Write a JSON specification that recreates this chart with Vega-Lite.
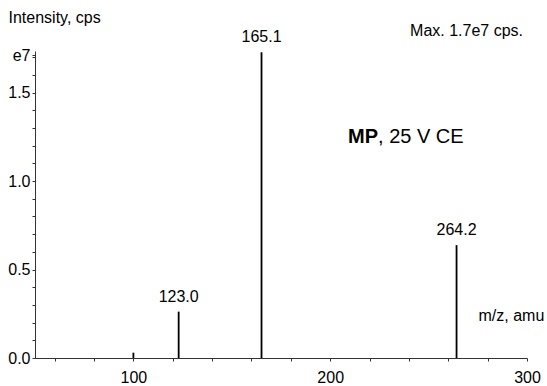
{
  "$schema": "https://vega.github.io/schema/vega-lite/v6.json",
  "width": 492,
  "height": 307,
  "autosize": {"type": "none"},
  "padding": {"left": 35, "top": 51, "right": 20, "bottom": 28},
  "background": "white",
  "config": {
    "view": {"stroke": null},
    "font": "Liberation Sans",
    "axis": {
      "grid": false,
      "domainColor": "#333",
      "tickColor": "#333",
      "labelColor": "#000",
      "titleColor": "#000",
      "labelFont": "Liberation Sans",
      "titleFont": "Liberation Sans",
      "labelFontSize": 16,
      "titleFontSize": 16,
      "titleFontWeight": "normal",
      "tickSize": 3
    }
  },
  "datasets": {
    "peaks": [
      {"mz": 100.0, "intensity": 0.03, "label": ""},
      {"mz": 123.0, "intensity": 0.262, "label": "123.0"},
      {"mz": 165.1, "intensity": 1.728, "label": "165.1"},
      {"mz": 264.2, "intensity": 0.638, "label": "264.2"}
    ],
    "notes": [
      {"mz": 224.3, "intensity": 1.215, "bold": "MP", "rest": ", 25 V CE"}
    ],
    "header": [
      {"mz": 300, "intensity": 1.82, "text": "Max. 1.7e7 cps."}
    ]
  },
  "encoding": {
    "x": {
      "field": "mz",
      "type": "quantitative",
      "scale": {"domain": [50, 300], "nice": false, "zero": false},
      "axis": {
        "values": [60, 80, 100, 120, 140, 160, 180, 200, 220, 240, 260, 280, 300],
        "labelExpr": "datum.value == 100 || datum.value == 200 || datum.value == 300 ? datum.label : ''",
        "labelFlush": false,
        "labelOverlap": false,
        "labelPadding": 8,
        "title": "m/z, amu",
        "titleAlign": "left",
        "titleBaseline": "middle",
        "titleAnchor": null,
        "titleX": 443,
        "titleY": -43
      }
    },
    "y": {
      "field": "intensity",
      "type": "quantitative",
      "scale": {"domain": [0, 1.735], "nice": false},
      "axis": {
        "values": [0, 0.1, 0.2, 0.3, 0.4, 0.5, 0.6, 0.7, 0.8, 0.9, 1.0, 1.1, 1.2, 1.3, 1.4, 1.5, 1.6, 1.7, 1.71],
        "labelExpr": "datum.value > 1.705 ? 'e7' : (datum.value == 0 || datum.value == 0.5 || datum.value == 1 || datum.value == 1.5 ? format(datum.value, '.1f') : '')",
        "labelOverlap": false,
        "labelFlush": false,
        "labelPadding": 2,
        "title": "Intensity, cps",
        "titleAngle": 0,
        "titleAlign": "left",
        "titleBaseline": "alphabetic",
        "titleAnchor": null,
        "titleX": -27,
        "titleY": -29
      }
    }
  },
  "layer": [
    {
      "data": {"name": "peaks"},
      "mark": {"type": "rule", "color": "#000", "strokeWidth": 1.8},
      "encoding": {
        "y2": {"datum": 0}
      }
    },
    {
      "data": {"name": "peaks"},
      "transform": [{"filter": "datum.label != ''"}],
      "mark": {"type": "text", "align": "center", "baseline": "alphabetic", "dy": -10, "fontSize": 16, "font": "Liberation Sans", "color": "#000"},
      "encoding": {
        "text": {"field": "label"}
      }
    },
    {
      "data": {"name": "notes"},
      "mark": {"type": "text", "align": "right", "baseline": "alphabetic", "fontSize": 20, "fontWeight": "bold", "font": "Liberation Sans", "color": "#000"},
      "encoding": {
        "text": {"field": "bold"}
      }
    },
    {
      "data": {"name": "notes"},
      "mark": {"type": "text", "align": "left", "baseline": "alphabetic", "fontSize": 20, "font": "Liberation Sans", "color": "#000"},
      "encoding": {
        "text": {"field": "rest"}
      }
    },
    {
      "data": {"name": "header"},
      "mark": {"type": "text", "align": "right", "baseline": "alphabetic", "dx": -4, "fontSize": 16, "font": "Liberation Sans", "color": "#000"},
      "encoding": {
        "text": {"field": "text"}
      }
    }
  ]
}
